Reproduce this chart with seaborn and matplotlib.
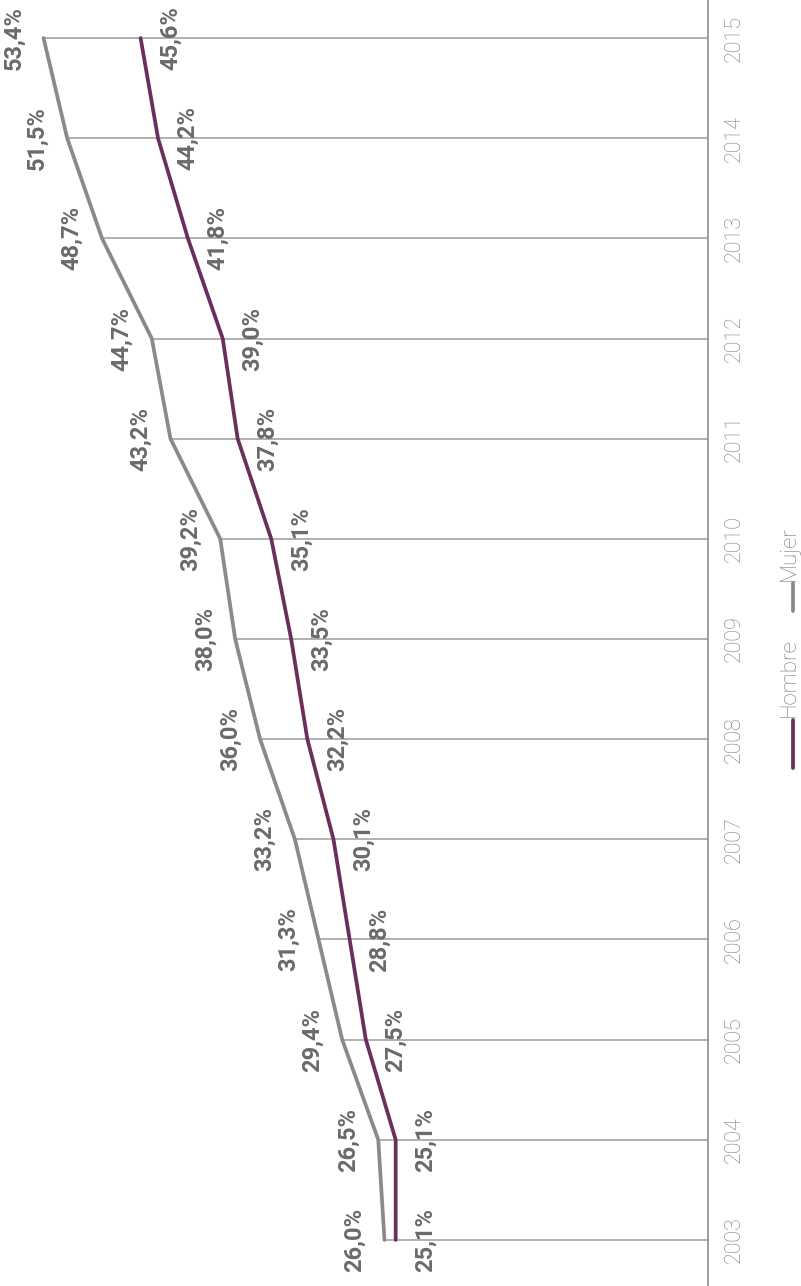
import matplotlib
matplotlib.use('Agg')
import matplotlib.pyplot as plt
import seaborn as sns
import pandas as pd
import numpy as np
from matplotlib.lines import Line2D

years = list(range(2003, 2016))
hombre = [25.1, 25.1, 27.5, 28.8, 30.1, 32.2, 33.5, 35.1, 37.8, 39.0, 41.8, 44.2, 45.6]
mujer = [26.0, 26.5, 29.4, 31.3, 33.2, 36.0, 38.0, 39.2, 43.2, 44.7, 48.7, 51.5, 53.4]
series = ['Hombre', 'Mujer']
colors = {'Hombre': '#6b2f5e', 'Mujer': '#8a8a8e'}

sns.set_theme(style='white')
plt.rcParams['font.family'] = ['Roboto', 'DejaVu Sans']

df = pd.DataFrame({
    'year': years * 2,
    'value': hombre + mujer,
    'serie': ['Hombre'] * len(years) + ['Mujer'] * len(years),
})

W, H = 801, 1286
fig = plt.figure(figsize=(W / 100, H / 100), dpi=100)
ax = fig.add_axes([0, 0, 708 / W, 1])

# drop lines from axis to the highest series
ax.hlines(years, 0, np.maximum(hombre, mujer), color='#a3a3a3', lw=1.2, zorder=1)

sns.lineplot(data=df, x='value', y='year', hue='serie', palette=colors,
             orient='y', estimator=None, lw=2.7, legend=False, ax=ax, zorder=3)

ax.set_xlim(56.9, 0)
ax.set_ylim(2002.54, 2015.38)
ax.set_xlabel('')
ax.set_ylabel('')
ax.set_xticks([])
ax.set_yticks(years)
ax.yaxis.tick_right()
ax.tick_params(axis='y', length=0, pad=11, labelsize=15.5, labelcolor='#7e7e7e')
for lab in ax.get_yticklabels():
    lab.set_rotation(90)
    lab.set_va('center')
    lab.set_fontweight('light')

for s in ['left', 'top', 'bottom']:
    ax.spines[s].set_visible(False)
ax.spines['right'].set_color('#8f8f8f')
ax.spines['right'].set_linewidth(1.2)


def fmt(v):
    return f'{v:.1f}'.replace('.', ',') + '%'


for y, v in zip(years, mujer):
    ax.annotate(fmt(v), (v, y), xytext=(-21.6, 0), textcoords='offset points',
                rotation=90, ha='center', va='center', fontsize=17,
                fontweight='bold', color='#6a6a6a', zorder=5)
for y, v in zip(years, hombre):
    ax.annotate(fmt(v), (v, y), xytext=(21.6, 0), textcoords='offset points',
                rotation=90, ha='center', va='center', fontsize=17,
                fontweight='bold', color='#6a6a6a', zorder=5)

# legend (rotated, drawn manually)
def fy(p):
    return 1 - p / H

fig.add_artist(Line2D([793 / W, 793 / W], [fy(768), fy(720)], color=colors['Hombre'], lw=2.7))
fig.add_artist(Line2D([793 / W, 793 / W], [fy(611), fy(583)], color=colors['Mujer'], lw=2.7))
fig.text(789 / W, fy(717), 'Hombre', rotation=90, ha='center', va='bottom',
         fontsize=16, fontweight='light', color='#7a7a7a')
fig.text(789 / W, fy(581), 'Mujer', rotation=90, ha='center', va='bottom',
         fontsize=16, fontweight='light', color='#7a7a7a')

fig.savefig('out.png', dpi=100)
